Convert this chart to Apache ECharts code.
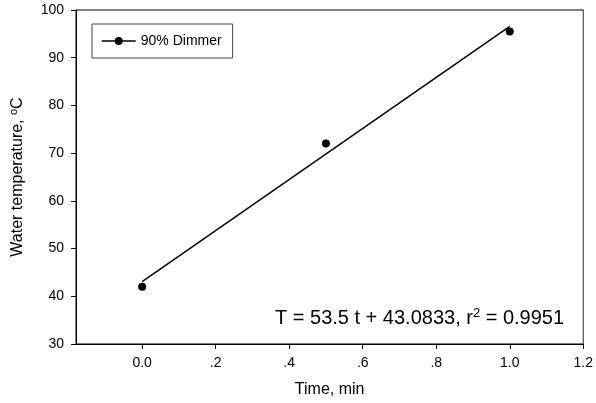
<!DOCTYPE html>
<html>
<head>
<meta charset="utf-8">
<script src="https://cdn.jsdelivr.net/npm/echarts@6/dist/echarts.min.js"></script>
<style>html,body{margin:0;padding:0;background:#fff}#c{width:596px;height:403px}</style>
</head>
<body>
<div id="c"></div>
<script>
var timeMin = [0.0, 0.5, 1.0];
var waterTemp = [42.0, 72.0, 95.5];
var fitTime = [0.0, 1.0];
var fitTemp = [43.0833, 96.5833];
var xTicks = [0, 0.2, 0.4, 0.6, 0.8, 1.0, 1.2];
var xTickLabels = ['0.0', '.2', '.4', '.6', '.8', '1.0', '1.2'];
var seriesName = '90% Dimmer';

var chart = echarts.init(document.getElementById('c'), null, {renderer: 'canvas'});
var font = 'Liberation Sans, Arial, sans-serif';
chart.setOption({
  animation: false,
  backgroundColor: '#fff',
  textStyle: {fontFamily: font},
  grid: {left: 74, right: 10, top: 10, bottom: 59, show: true, borderColor: '#000', borderWidth: 1, backgroundColor: 'transparent'},
  legend: {
    left: 92, top: 24,
    orient: 'vertical',
    data: [{name: seriesName}],
    itemWidth: 34, itemHeight: 10,
    padding: [9, 11, 9, 9],
    borderColor: '#444', borderWidth: 1,
    textStyle: {fontFamily: font, fontSize: 14, color: '#000', lineHeight: 16},
    lineStyle: {width: 1.5, color: '#000', opacity: 1},
    itemStyle: {color: '#000'}
  },
  xAxis: {
    type: 'value', min: -0.18, max: 1.2,
    name: 'Time, min', nameLocation: 'middle', nameGap: 38,
    nameTextStyle: {fontFamily: font, fontSize: 16, color: '#000'},
    splitLine: {show: false},
    axisLine: {onZero: false, lineStyle: {color: '#000', width: 1}},
    axisTick: {show: true, length: 5, lineStyle: {color: '#000'}, customValues: xTicks},
    axisLabel: {
      fontFamily: font, fontSize: 14, color: '#000', margin: 12,
      customValues: xTicks,
      formatter: function (v) {
        for (var i = 0; i < xTicks.length; i++) if (Math.abs(xTicks[i] - v) < 1e-6) return xTickLabels[i];
        return '';
      }
    }
  },
  yAxis: [{
    type: 'value', min: 30, max: 100, interval: 10,
    name: 'Water temperature, {sup|o}C', nameLocation: 'middle', nameGap: 48,
    nameTextStyle: {fontFamily: font, fontSize: 16, color: '#000',
      rich: {sup: {fontFamily: font, fontSize: 11, color: '#000', verticalAlign: 'top', padding: [0, 0, 9, 0]}}},
    splitLine: {show: false},
    axisLine: {onZero: false, lineStyle: {color: '#000', width: 1}},
    axisTick: {show: true, length: 5, lineStyle: {color: '#000'}},
    axisLabel: {fontFamily: font, fontSize: 14, color: '#000', margin: 12}
  }, {
    type: 'value', min: 30, max: 100, interval: 10, position: 'right',
    splitLine: {show: false},
    axisLine: {show: true, onZero: false, lineStyle: {color: '#666', width: 1}},
    axisTick: {show: false},
    axisLabel: {show: false}
  }],
  series: [
    {
      name: seriesName, type: 'line',
      data: timeMin.map(function (t, i) { return [t, waterTemp[i]]; }),
      symbol: 'circle', symbolSize: 8, showSymbol: true,
      itemStyle: {color: '#000'},
      lineStyle: {width: 0, opacity: 0},
      z: 3
    },
    {
      name: 'fit', type: 'line',
      data: fitTime.map(function (t, i) { return [t, fitTemp[i]]; }),
      symbol: 'none',
      lineStyle: {color: '#000', width: 1.5},
      z: 2
    }
  ],
  graphic: [{
    type: 'text', left: 275, top: 307,
    style: {
      text: 'T = 53.5 t + 43.0833, r{sup|2} = 0.9951',
      fontFamily: font, fontSize: 20, fill: '#000',
      rich: {sup: {fontFamily: font, fontSize: 13, fill: '#000', verticalAlign: 'top', padding: [0, 0, 10, 0]}}
    }
  }]
});
</script>
</body>
</html>
